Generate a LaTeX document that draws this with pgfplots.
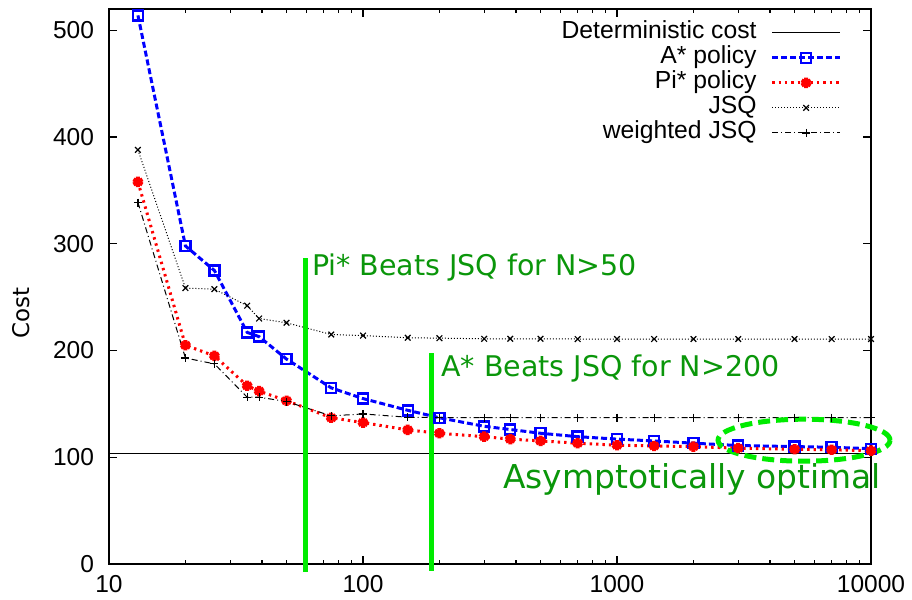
\documentclass[border=0pt]{standalone}
\usepackage{fontspec}
\setmainfont{Liberation Sans}
\newfontfamily\dejavu{DejaVu Sans}
\usepackage{pgfplots}
\pgfplotsset{compat=1.18}
\definecolor{barg}{RGB}{0,235,0}
\definecolor{txtg}{RGB}{10,150,10}

\begin{document}
\begin{tikzpicture}
\useasboundingbox (-54.5bp,-18bp) rectangle (401.5bp,282bp);
\begin{semilogxaxis}[
  scale only axis, width=381bp, height=277.5bp,
  xmin=10, xmax=10000, ymin=0, ymax=520,
  xtick={10,100,1000,10000}, xticklabels={10,100,1000,10000},
  ytick={0,100,...,500},
  tick align=inside,
  major tick length=4bp, minor tick length=2bp,
  axis line style={line width=0.6bp},
  every tick/.style={black, line width=0.6bp},
  ticklabel style={font=\fontsize{12.3}{14}\selectfont},
  /pgf/number format/assume math mode=true,
  yticklabel style={xshift=-4bp},
  xticklabel style={yshift=-2bp},
  ylabel={\dejavu Cost},
  ylabel style={at={(rel axis cs:-0.115,0.453)}, anchor=center, font=\fontsize{11.5}{13}\selectfont},
  clip=false,
  legend cell align=right,
  legend plot pos=right,
  legend style={draw=none, fill=none, at={(rel axis cs:1,1)}, anchor=north east,
    xshift=-14.5bp, yshift=-5.5bp, font=\fontsize{12.4}{14}\selectfont,
    row sep=0pt, column sep=6bp, inner sep=0pt,
    nodes={inner sep=1bp, text height=8.2bp, text depth=2.3bp}},
  legend image code/.code={\draw[mark repeat=2,mark phase=2] plot coordinates {(0bp,0bp) (17bp,0bp) (34bp,0bp)};},
]
% deterministic cost
\addplot[black, line width=0.5bp] coordinates {(10,104) (10000,104)};
\addlegendentry{Deterministic cost}
% A* policy
\addplot[blue, line width=1.5bp, dash pattern=on 3bp off 1.5bp, mark=square, mark size=2.5bp,
  mark options={solid, line width=1.2bp}] coordinates {
  (13,514) (20,298) (26,275) (35,217) (39,213) (50,192) (75,165) (100,155)
  (150,144) (200,137) (300,129) (380,126) (500,122.5) (700,119.3) (1000,117)
  (1400,115.3) (2000,113.2) (3000,111) (5000,110) (7000,109.4) (10000,108)
};
\addlegendentry{A* policy}
% Pi* policy
\addplot[red, line width=1.5bp, dash pattern=on 1.2bp off 2bp, mark=asterisk, mark size=2.6bp,
  mark options={solid, line width=2bp}] coordinates {
  (13,358) (20,205) (26,195) (35,167) (39,162) (50,153) (75,137) (100,132.5)
  (150,125.6) (200,122.5) (300,119.3) (380,117) (500,115.3) (700,113.2) (1000,111.3)
  (1400,110.6) (2000,110) (3000,108.5) (5000,107.5) (7000,107) (10000,106.2)
};
\addlegendentry{Pi* policy}
% JSQ
\addplot[black, line width=0.5bp, dash pattern=on 0.5bp off 1bp, mark=x, mark size=2bp,
  mark options={solid, line width=0.6bp}] coordinates {
  (13,388) (20,258.5) (26,257.5) (35,242) (39,230) (50,226) (75,215) (100,214)
  (150,212) (200,211.6) (300,211) (380,211) (500,211) (700,210.8) (1000,210.8)
  (1400,210.8) (2000,210.8) (3000,210.8) (5000,210.8) (7000,210.8) (10000,210.8)
};
\addlegendentry{JSQ}
% weighted JSQ
\addplot[black, line width=0.5bp, dash pattern=on 3bp off 1.5bp on 0.5bp off 1.5bp, mark=+, mark size=2bp,
  mark options={solid, line width=0.6bp}] coordinates {
  (13,338.7) (20,193) (26,187.5) (35,156.3) (39,156.3) (50,152.2) (75,138.8) (100,140.6)
  (150,137.5) (200,137.2) (300,137.2) (380,137.2) (500,137.2) (700,137.2) (1000,137.2)
  (1400,137.2) (2000,137.2) (3000,137.2) (5000,137.2) (7000,137.2) (10000,137.2)
};
\addlegendentry{weighted JSQ}
% annotation bars
\addplot[barg, line width=2.8bp, forget plot] coordinates {(59.4,-7.5) (59.4,287)};
\addplot[barg, line width=2.5bp, forget plot] coordinates {(186,-6.5) (186,198)};
\draw[barg, line width=2.5bp, dash pattern=on 6bp off 3bp] (axis cs:5450,116) ellipse [x radius=43bp, y radius=10.5bp];
\node[anchor=base west, inner sep=0pt, text=txtg, font=\dejavu\fontsize{14.3}{16}\selectfont]
  at (axis cs:62.8,270) {Pi* Beats JSQ for N>50};
\node[anchor=base west, inner sep=0pt, text=txtg, font=\dejavu\fontsize{14.3}{16}\selectfont]
  at (axis cs:202.8,175.6) {A* Beats JSQ for N>200};
\node[anchor=base west, inner sep=0pt, text=txtg, font=\dejavu\fontsize{16.5}{19}\selectfont]
  at (axis cs:355.6,71.2) {Asymptotically optimal};
\end{semilogxaxis}
\end{tikzpicture}
\end{document}
